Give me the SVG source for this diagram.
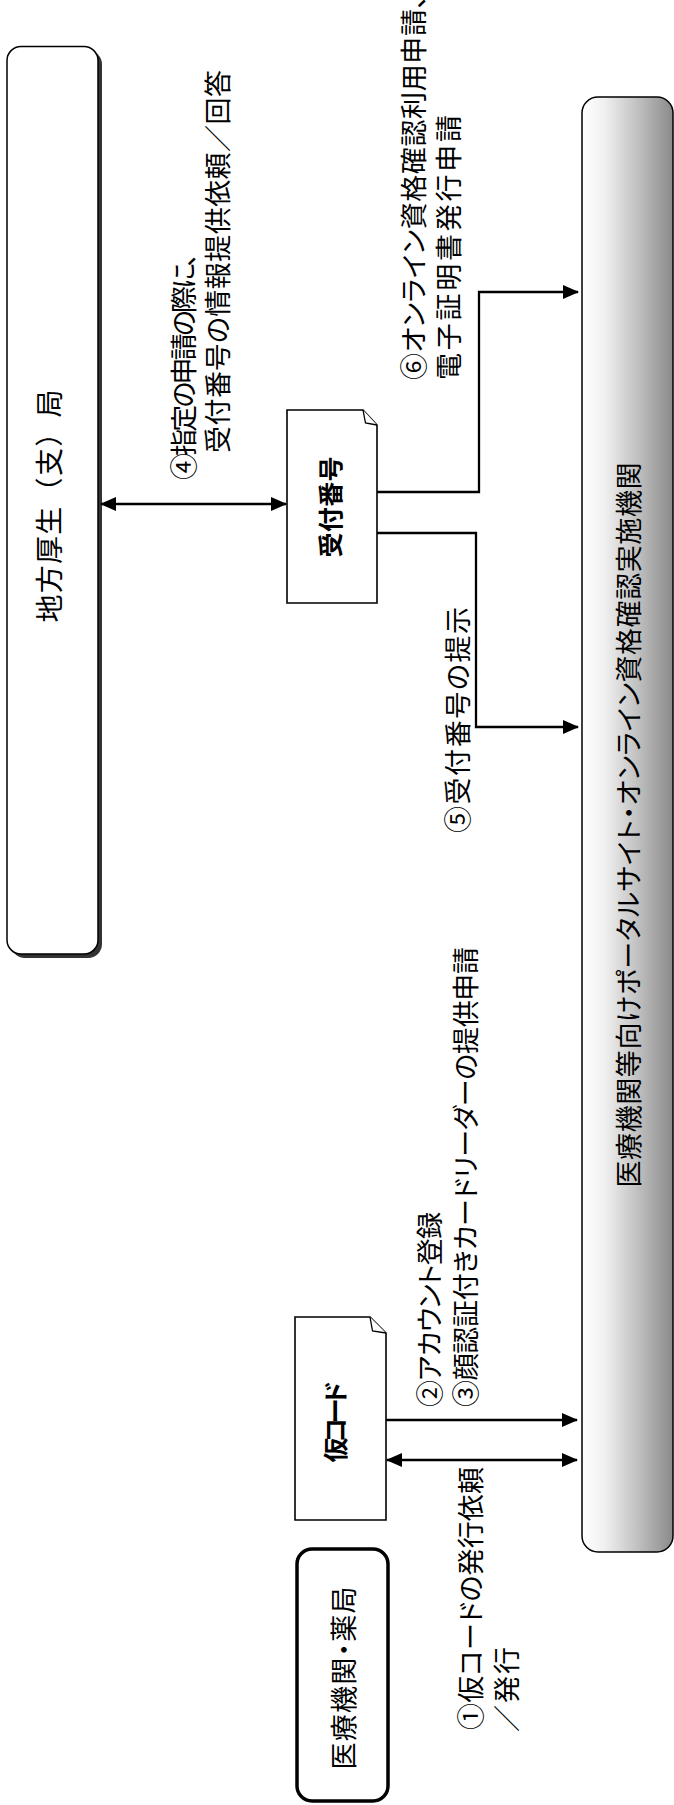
<svg xmlns="http://www.w3.org/2000/svg" width="674" height="1805" viewBox="0 0 674 1805">
<style>
  text { font-family: "Noto Sans CJK JP", "Noto Sans", sans-serif; fill: #000; font-size: 27px; font-feature-settings: "palt"; dominant-baseline: central; }
  .b { font-weight: bold; font-size: 25px; }
  .np { font-feature-settings: normal; font-size: 28px; }
  .conn { stroke: #000; stroke-width: 2.3; fill: none; }
  .doc { fill: #fff; stroke: #000; stroke-width: 1.6; stroke-linejoin: miter; }
  .fold { fill: #fff; stroke: #000; stroke-width: 1.3; }
</style>
<defs>
  <marker id="ah" viewBox="0 0 16 14" refX="15" refY="7" markerWidth="16" markerHeight="14" markerUnits="userSpaceOnUse" orient="auto-start-reverse">
    <path d="M0,0 L16,7 L0,14 Z" fill="#000"/>
  </marker>
  <linearGradient id="grad" x1="0" y1="0" x2="1" y2="0">
    <stop offset="0" stop-color="#ffffff"/>
    <stop offset="0.25" stop-color="#f0f0f0"/>
    <stop offset="0.6" stop-color="#c2c2c2"/>
    <stop offset="1" stop-color="#8a8a8a"/>
  </linearGradient>
</defs>

<g id="chiho">
  <rect x="11" y="50.5" width="91" height="907.5" rx="14" fill="#333"/>
  <rect x="7" y="46.5" width="91" height="907.5" rx="14" fill="#fff" stroke="#000" stroke-width="1.5"/>
  <text class="np" transform="translate(48,506) rotate(-90)" text-anchor="middle" textLength="233" lengthAdjust="spacing">地方厚生（支）局</text>
</g>

<g id="uketsuke">
  <path class="doc" d="M287,410 H363 L377,425 V603 H287 Z"/>
  <path class="fold" d="M363,410 L365.5,423 L377,425"/>
  <text class="b" transform="translate(329,507) rotate(-90)" text-anchor="middle" textLength="101" lengthAdjust="spacing">受付番号</text>
</g>

<g id="portal">
  <rect x="582" y="97" width="91" height="1455" rx="16" fill="url(#grad)" stroke="#000" stroke-width="1.5"/>
  <text transform="translate(627,825) rotate(-90)" text-anchor="middle" textLength="725" lengthAdjust="spacing">医療機関等向けポータルサイト・オンライン資格確認実施機関</text>
</g>

<g id="karicode">
  <path class="doc" d="M295,1317 H370 L386,1333 V1520 H295 Z"/>
  <path class="fold" d="M370,1317 L372.5,1331 L386,1333"/>
  <text class="b" transform="translate(334,1422) rotate(-90)" text-anchor="middle" textLength="81" lengthAdjust="spacing">仮コード</text>
</g>

<g id="iryokikan">
  <rect x="297" y="1549" width="91" height="252" rx="15" fill="#fff" stroke="#000" stroke-width="3.5"/>
  <text transform="translate(342,1678) rotate(-90)" text-anchor="middle" textLength="183" lengthAdjust="spacing">医療機関・薬局</text>
</g>

<g id="connectors">
  <line class="conn" x1="101" y1="504" x2="286" y2="504" marker-start="url(#ah)" marker-end="url(#ah)"/>
  <polyline class="conn" points="377,492 479,492 479,292 578,292" marker-end="url(#ah)"/>
  <polyline class="conn" points="377,533 476,533 476,727 578,727" marker-end="url(#ah)"/>
  <line class="conn" x1="386" y1="1420" x2="577" y2="1420" marker-end="url(#ah)"/>
  <line class="conn" x1="387" y1="1460" x2="577" y2="1460" marker-start="url(#ah)" marker-end="url(#ah)"/>
</g>

<g id="labels">
  <text transform="translate(182,480) rotate(-90)" textLength="227" lengthAdjust="spacing">④指定の申請の際に、</text>
  <text transform="translate(216,453) rotate(-90)" textLength="383" lengthAdjust="spacing">受付番号の情報提供依頼／回答</text>
  <text transform="translate(412,380) rotate(-90)" textLength="385" lengthAdjust="spacing">⑥オンライン資格確認利用申請、</text>
  <text transform="translate(447,380) rotate(-90)" textLength="265" lengthAdjust="spacing">電子証明書発行申請</text>
  <text transform="translate(456,833) rotate(-90)" textLength="226" lengthAdjust="spacing">⑤受付番号の提示</text>
  <text transform="translate(428,1407) rotate(-90)" textLength="195" lengthAdjust="spacing">②アカウント登録</text>
  <text transform="translate(464,1407) rotate(-90)" textLength="460" lengthAdjust="spacing">③顔認証付きカードリーダーの提供申請</text>
  <text transform="translate(469,1730) rotate(-90)" textLength="263" lengthAdjust="spacing">①仮コードの発行依頼</text>
  <text transform="translate(505,1732) rotate(-90)" textLength="85" lengthAdjust="spacing">／発行</text>
</g>
</svg>
